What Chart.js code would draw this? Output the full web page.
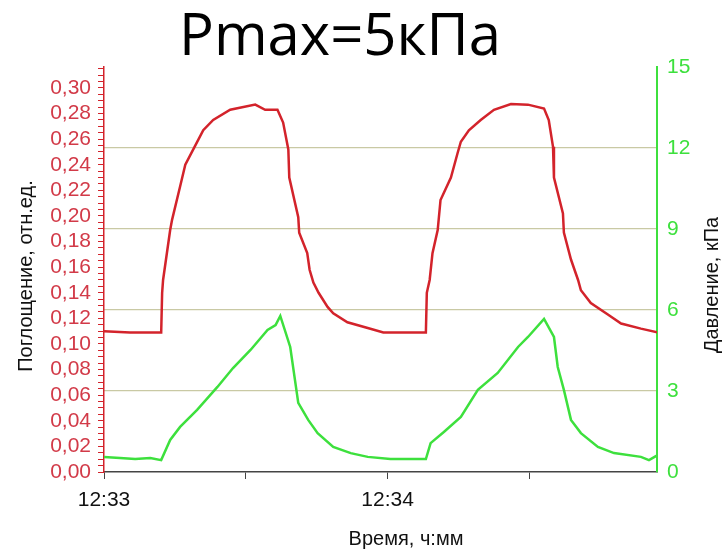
<!DOCTYPE html>
<html>
<head>
<meta charset="utf-8">
<script src="https://cdn.jsdelivr.net/npm/chart.js@4.4.0/dist/chart.umd.min.js"></script>
<style>
  body { margin: 0; background: #fff; }
  #wrap { position: relative; width: 724px; height: 551px; }
  #title {
    position: absolute; left: 140px; top: 4px; width: 400px;
    text-align: center; font-family: "Open Sans", sans-serif;
    font-size: 58px; line-height: 58px; color: #000;
  }
</style>
</head>
<body>
<div id="wrap">
  <canvas id="chart" width="724" height="551"></canvas>
  <div id="title">Pmax=5кПа</div>
</div>
<script>
//Time in seconds after 12:33
const absTime = [0, 5.5, 12.1, 12.3, 12.5, 14.0, 14.4, 16.1, 17.2, 19.3, 21.0, 23.1, 26.7, 32.0, 34.1, 36.7,
  37.9, 39.0, 39.2, 41.1, 41.3, 43.0, 43.5, 44.3, 45.4, 47.3, 48.5, 51.5, 55.8, 59.1, 62.8, 68.1,
  68.3, 68.9, 69.5, 70.6, 71.2, 73.4, 74.8, 75.5, 77.2, 79.7, 82.5, 86.1, 89.7, 93.1, 94.1, 95.0,
  95.2, 97.1, 97.3, 98.8, 100.3, 100.9, 103.0, 106.6, 109.4, 113.6, 117.2];
//Absorbance, rel. units (left axis)
const absValues = [0.110, 0.109, 0.109, 0.140, 0.150, 0.189, 0.197, 0.223, 0.240, 0.255, 0.267, 0.275, 0.283, 0.287, 0.283, 0.283,
  0.273, 0.252, 0.230, 0.199, 0.187, 0.171, 0.158, 0.148, 0.140, 0.129, 0.124, 0.117, 0.1125, 0.109, 0.109, 0.109,
  0.140, 0.150, 0.171, 0.189, 0.2125, 0.230, 0.249, 0.258, 0.267, 0.275, 0.283, 0.2875, 0.287, 0.284, 0.275, 0.254,
  0.230, 0.202, 0.187, 0.166, 0.150, 0.142, 0.132, 0.123, 0.116, 0.112, 0.109];

const presTime = [0, 3.4, 6.6, 9.8, 12.1, 14.0, 16.1, 19.7, 24.0, 27.3, 31.0, 34.6, 36.3, 37.3, 39.4, 41.1,
  43.2, 45.2, 48.5, 52.2, 55.8, 60.6, 68.1, 69.1, 71.9, 75.5, 79.1, 83.3, 87.6, 89.7, 93.1, 95.2,
  96.0, 97.3, 98.8, 100.9, 104.5, 107.9, 113.6, 115.3, 117.2];
//Pressure, kPa (right axis)
const presValues = [0.56, 0.52, 0.48, 0.52, 0.44, 1.19, 1.67, 2.30, 3.15, 3.85, 4.52, 5.26, 5.44, 5.78, 4.63, 2.56,
  1.93, 1.44, 0.93, 0.70, 0.56, 0.48, 0.48, 1.07, 1.48, 2.04, 3.04, 3.67, 4.63, 5.0, 5.67, 5.0,
  3.89, 3.04, 1.93, 1.44, 0.93, 0.70, 0.56, 0.44, 0.63];

const timeLabels = { 0: "12:33", 60: "12:34" };

const red = "#d3232b";
const redText = "#d23a48";
const green = "#3de03d";

//Axis titles drawn by hand so the right one reads bottom-to-top
const axisTitles = {
  id: "axisTitles",
  afterDraw(chart) {
    const ctx = chart.ctx;
    ctx.save();
    ctx.fillStyle = "#111";
    ctx.font = "20px 'Liberation Sans', Arial, sans-serif";
    ctx.textAlign = "center";
    ctx.textBaseline = "middle";
    ctx.fillText("Время, ч:мм", 406, 539);
    ctx.translate(26, 276);
    ctx.rotate(-Math.PI / 2);
    ctx.fillText("Поглощение, отн.ед.", 0, 0);
    ctx.restore();
    ctx.save();
    ctx.fillStyle = "#111";
    ctx.font = "20px 'Liberation Sans', Arial, sans-serif";
    ctx.textAlign = "center";
    ctx.textBaseline = "middle";
    ctx.translate(712, 285);
    ctx.rotate(-Math.PI / 2);
    ctx.fillText("Давление, кПа", 0, 0);
    ctx.restore();
  },
};

const ctx = document.getElementById("chart").getContext("2d");
new Chart(ctx, {
  type: "line",
  data: {
    datasets: [
      {
        label: "Поглощение",
        data: absTime.map((t, i) => ({ x: t, y: absValues[i] })),
        borderColor: red,
        borderWidth: 2.5,
        pointRadius: 0,
        tension: 0,
        yAxisID: "y",
      },
      {
        label: "Давление",
        data: presTime.map((t, i) => ({ x: t, y: presValues[i] })),
        borderColor: green,
        borderWidth: 2.5,
        pointRadius: 0,
        tension: 0,
        yAxisID: "y1",
      },
    ],
  },
  options: {
    responsive: false,
    animation: false,
    layout: { padding: { top: 67 } },
    plugins: {
      legend: { display: false },
      tooltip: { enabled: false },
    },
    scales: {
      x: {
        type: "linear",
        min: 0,
        max: 117,
        afterFit: (scale) => { scale.height = 79; },
        border: { color: "#444", width: 1.5 },
        grid: { drawOnChartArea: false, tickLength: 7, tickColor: "#444" },
        ticks: {
          stepSize: 30,
          includeBounds: false,
          autoSkip: false,
          maxRotation: 0,
          padding: 9,
          color: "#111",
          font: { family: "'Liberation Sans', Arial, sans-serif", size: 21 },
          callback: (v) => timeLabels[v] || "",
        },
      },
      y: {
        position: "left",
        min: 0,
        max: 0.3164,
        afterFit: (scale) => { scale.width = 104; },
        border: { color: red, width: 1.5 },
        grid: { drawOnChartArea: false, tickLength: 6, tickColor: red },
        ticks: {
          stepSize: 0.005,
          includeBounds: false,
          autoSkip: false,
          padding: 7,
          color: redText,
          font: { family: "'Liberation Sans', Arial, sans-serif", size: 21 },
          callback: (v) => {
            const k = Math.round(v * 1000);
            if (Math.abs(v * 1000 - k) > 1e-6 || k % 20 !== 0) return "";
            return v.toFixed(2).replace(".", ",");
          },
        },
      },
      y1: {
        position: "right",
        min: 0,
        max: 15,
        afterFit: (scale) => { scale.width = 67; },
        border: { color: green, width: 2 },
        grid: {
          drawTicks: false,
          color: (c) => (c.tick.value === 0 || c.tick.value === 15 ? "rgba(0,0,0,0)" : "#c9c9a4"),
          lineWidth: 1.2,
        },
        ticks: {
          stepSize: 3,
          padding: 10,
          color: green,
          font: { family: "'Liberation Sans', Arial, sans-serif", size: 21 },
        },
      },
    },
  },
  plugins: [axisTitles],
});
</script>
</body>
</html>
